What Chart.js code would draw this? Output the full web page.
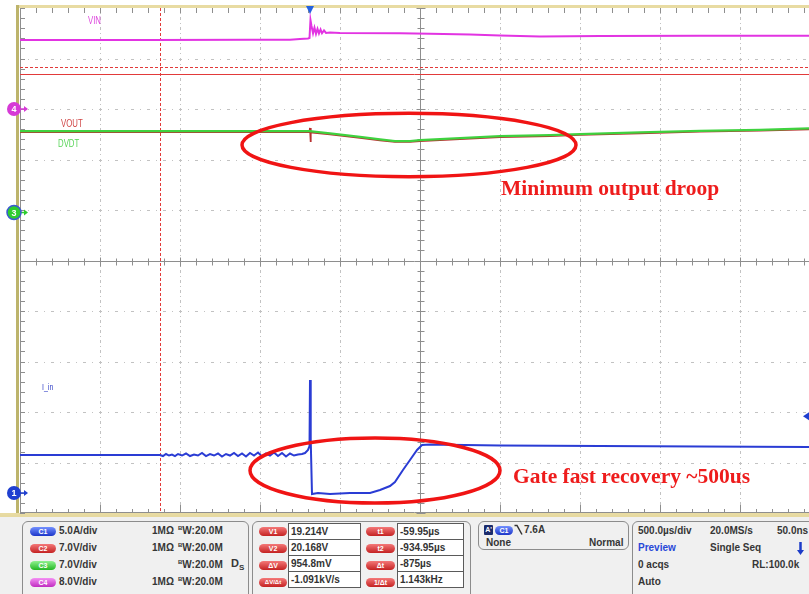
<!DOCTYPE html>
<html>
<head>
<meta charset="utf-8">
<script src="https://cdn.jsdelivr.net/npm/chart.js@4.4.0/dist/chart.umd.min.js"></script>
<style>
html, body { margin: 0; padding: 0; background: #fff; }
#scope { position: relative; width: 809px; height: 594px; overflow: hidden; background: #fff; }
#plot { position: absolute; left: 0; top: 0; }
#panel { position: absolute; left: 0; top: 515px; width: 809px; height: 79px; background: #f0f0f0; border-top: 2px solid #e6d9a0; box-sizing: border-box; }
.bx { position: absolute; border: 1px solid #8c8c8c; border-radius: 6px; box-sizing: border-box; }
.tx { position: absolute; font: bold 10px "Liberation Sans", Arial, sans-serif; color: #363636; line-height: 12px; white-space: nowrap; }
.tx sup { font-size: 6px; vertical-align: 4px; line-height: 0; }
.tx sub { font-size: 8px; vertical-align: -3px; line-height: 0; }
.pl { position: absolute; height: 9px; border-radius: 5px; font: bold 7px "Liberation Sans", Arial, sans-serif; color: #fff; text-align: center; line-height: 9px; white-space: nowrap; }
.blue { background: linear-gradient(#7390ff, #1c36c8); }
.red { background: linear-gradient(#f47878, #c42222); }
.green { background: linear-gradient(#90f290, #22b622); }
.mag { background: linear-gradient(#f490f4, #c02cc0); }
table.rd { position: absolute; border-collapse: collapse; }
table.rd td { border: 1px solid #5a5a5a; background: #fff; height: 15px; padding: 0 0 0 2px; font: bold 10px "Liberation Sans", Arial, sans-serif; color: #333; white-space: nowrap; }
</style>
</head>
<body>
<div id="scope">
  <canvas id="plot" width="809" height="515"></canvas>
  <div id="panel"></div>

  <!-- channel settings -->
  <div class="bx" style="left:22px;top:521px;width:227px;height:90px"></div>
  <div class="pl blue" style="left:30px;top:526.5px;width:26px">C1</div>
  <div class="pl red" style="left:30px;top:543.5px;width:26px">C2</div>
  <div class="pl green" style="left:30px;top:560.5px;width:26px">C3</div>
  <div class="pl mag" style="left:30px;top:577.5px;width:26px">C4</div>
  <div class="tx" style="left:59px;top:525px">5.0A/div</div>
  <div class="tx" style="left:59px;top:542px">7.0V/div</div>
  <div class="tx" style="left:59px;top:559px">7.0V/div</div>
  <div class="tx" style="left:59px;top:576px">8.0V/div</div>
  <div class="tx" style="left:152px;top:525px">1MΩ</div>
  <div class="tx" style="left:152px;top:542px">1MΩ</div>
  <div class="tx" style="left:152px;top:576px">1MΩ</div>
  <div class="tx" style="left:178px;top:525px"><sup>B</sup>W:20.0M</div>
  <div class="tx" style="left:178px;top:542px"><sup>B</sup>W:20.0M</div>
  <div class="tx" style="left:178px;top:559px"><sup>B</sup>W:20.0M</div>
  <div class="tx" style="left:178px;top:576px"><sup>B</sup>W:20.0M</div>
  <div class="tx" style="left:231px;top:557px;font-size:11px">D<sub>S</sub></div>

  <!-- cursor readouts -->
  <div class="bx" style="left:252px;top:521px;width:219px;height:90px"></div>
  <div class="pl red" style="left:259px;top:526.5px;width:28px">V1</div>
  <div class="pl red" style="left:259px;top:543.5px;width:28px">V2</div>
  <div class="pl red" style="left:259px;top:560.5px;width:28px">ΔV</div>
  <div class="pl red" style="left:259px;top:577.5px;width:28px;font-size:6px">ΔV/Δt</div>
  <table class="rd" style="left:288px;top:523px;width:73px">
    <tr><td>19.214V</td></tr><tr><td>20.168V</td></tr><tr><td>954.8mV</td></tr><tr><td>-1.091kV/s</td></tr>
  </table>
  <div class="pl red" style="left:366px;top:526.5px;width:29px">t1</div>
  <div class="pl red" style="left:366px;top:543.5px;width:29px">t2</div>
  <div class="pl red" style="left:366px;top:560.5px;width:29px">Δt</div>
  <div class="pl red" style="left:366px;top:577.5px;width:29px">1/Δt</div>
  <table class="rd" style="left:397px;top:523px;width:67px">
    <tr><td>-59.95µs</td></tr><tr><td>-934.95µs</td></tr><tr><td>-875µs</td></tr><tr><td>1.143kHz</td></tr>
  </table>

  <!-- trigger -->
  <div class="bx" style="left:478px;top:521px;width:151px;height:29px"></div>
  <div class="pl" style="left:484px;top:525px;width:9px;height:10px;border-radius:1px;background:#1c2c6c;line-height:10px">A'</div>
  <div class="pl blue" style="left:495px;top:525.5px;width:18px">C1</div>
  <svg style="position:absolute;left:514px;top:524px" width="9" height="12"><polyline points="0.5,1.5 3,1.5 8,10.5" fill="none" stroke="#333" stroke-width="1.5"/></svg>
  <div class="tx" style="left:524px;top:524px">7.6A</div>
  <div class="tx" style="left:486px;top:537px">None</div>
  <div class="tx" style="left:589px;top:537px">Normal</div>

  <!-- timebase -->
  <div class="bx" style="left:632px;top:521px;width:220px;height:90px"></div>
  <div class="tx" style="left:638px;top:525px">500.0µs/div</div>
  <div class="tx" style="left:710px;top:525px">20.0MS/s</div>
  <div class="tx" style="left:777px;top:525px">50.0ns</div>
  <div class="tx" style="left:638px;top:542px;color:#2848d8">Preview</div>
  <div class="tx" style="left:710px;top:542px">Single Seq</div>
  <svg style="position:absolute;left:796px;top:541px" width="9" height="15"><line x1="4.5" y1="1" x2="4.5" y2="12" stroke="#1c3cc8" stroke-width="2.5"/><polygon points="1,9 8,9 4.5,14" fill="#1c3cc8"/></svg>
  <div class="tx" style="left:638px;top:559px">0 acqs</div>
  <div class="tx" style="left:752px;top:559px">RL:100.0k</div>
  <div class="tx" style="left:638px;top:576px">Auto</div>
</div>

<script>
// time in µs relative to the trigger, 500 µs per division
const usPerDiv = 500;
const timeWindow = [-1812.5, 3118.75];

// C1 input current (A)
const iinTime = [-1812.5, -1312.5, -937.5, -918.75, -900, -881.25, -862.5, -843.75, -825, -800, -775, -750, -725, -700, -675, -650, -625, -600, -575, -550, -525, -500, -475, -450, -425, -400, -375, -350, -325, -300, -275, -250, -225, -200, -175, -150, -125, -100, -75, -50, -31.25, -12.5, -3, 0, 3, 6, 12.5, 50, 125, 250, 375, 437.5, 500, 531, 581, 625, 669, 700, 750, 1187.5, 1812.5, 2437.5, 3118.75];
const iinAmps = [3.76, 3.76, 3.76, 3.66, 3.86, 3.71, 3.81, 3.66, 3.86, 3.71, 3.91, 3.66, 3.81, 3.71, 3.96, 3.66, 3.86, 3.71, 3.91, 3.61, 3.86, 3.71, 3.96, 3.66, 3.91, 3.61, 3.96, 3.71, 4.01, 3.61, 3.91, 3.71, 4.01, 3.66, 3.96, 3.61, 3.91, 3.71, 3.81, 3.86, 3.96, 4.26, 4.65, 11.19, 6.93, 5.25, -0.10, 0.00, -0.10, 0.00, 0.00, 0.30, 0.69, 1.09, 2.28, 3.27, 4.26, 4.75, 4.80, 4.70, 4.65, 4.60, 4.55];

// C2 output voltage (V)
const voutTime = [-1812.5, -62.5, -3, 0, 3, 6, 125, 312.5, 437.5, 531, 625, 687.5, 875, 1187.5, 1500, 1687.5, 2062.5, 2437.5, 2812.5, 3118.75];
const voutVolts = [11.16, 11.16, 11.16, 11.72, 9.78, 11.10, 10.84, 10.36, 10.01, 9.78, 9.78, 9.91, 10.12, 10.47, 10.61, 10.75, 10.98, 11.20, 11.34, 11.54];

// C3 dv/dt pin (V)
const dvdtTime = [-1812.5, -3, 125, 312.5, 437.5, 531, 625, 687.5, 875, 1187.5, 1500, 1687.5, 2062.5, 2437.5, 2812.5, 3118.75];
const dvdtVolts = [11.28, 11.28, 10.96, 10.48, 10.13, 9.90, 9.90, 10.03, 10.24, 10.59, 10.73, 10.87, 11.10, 11.32, 11.46, 11.66];

// C4 input voltage (V)
const vinTime = [-1812.5, -1000, -375, -125, -62.5, -12.5, -3, 3, 9, 19, 28, 37.5, 47, 56, 66, 75, 87.5, 100, 125, 187.5, 562.5, 750, 1000, 1187.5, 1437.5, 1812.5, 2437.5, 3118.75];
const vinVolts = [10.93, 10.93, 10.96, 10.98, 11.09, 11.17, 11.25, 14.10, 13.2, 12.0, 12.9, 11.9, 12.7, 11.95, 12.6, 12.0, 12.45, 12.05, 12.10, 12.04, 11.99, 11.93, 11.80, 11.64, 11.50, 11.56, 11.62, 11.62];

// channel scale (units/div) and ground position (divisions from the bottom)
const chanIds = ['y1', 'y2', 'y3', 'y4'];
const chanPerDiv = [5, 7, 7, 8];
const chanGround = [0.396, 5.95, 5.95, 8];

// cursors: V1/V2 on C2, t2 in time; trigger level on C1
const cursorVolts = [19.214, 20.168];
const cursorTime = -934.95;
const trigLevel = 7.6;

const pts = (ts, vs) => ts.map((t, i) => ({x: t, y: vs[i]}));

const yScales = {};
chanIds.forEach((id, i) => {
    yScales[id] = {
        type: 'linear',
        display: false,
        min: -chanGround[i] * chanPerDiv[i],
        max: (10 - chanGround[i]) * chanPerDiv[i]
    };
});

const traceLabels = [
    {text: 'VIN', t: -1387.5, axis: 'y4', v: 13.47, color: '#de4ade', size: 10},
    {text: 'VOUT', t: -1556, axis: 'y2', v: 11.85, color: '#d04646', size: 10},
    {text: 'DVDT', t: -1575, axis: 'y3', v: 9.08, color: '#58d458', size: 10},
    {text: 'I_in', t: -1675, axis: 'y1', v: 10.15, color: '#3a48c8', size: 9}
];
const rings = [
    {t: 618.75, dt: 1043.75, axis: 'y2', v: 9.36, dv: 4.39},
    {t: 406.25, dt: 781.25, axis: 'y1', v: 2.23, dv: 3.22}
];
const notes = [
    {text: 'Minimum output droop', t: 1193.75, axis: 'y2', v: 2.43},
    {text: 'Gate fast recovery ~500us', t: 1268.75, axis: 'y1', v: 1.0}
];
const chanMarks = [
    {axis: 'y4', n: '4', color: '#d63ad6'},
    {axis: 'y3', n: '3', color: '#2ecc2e', ring: '#3a5ad0'},
    {axis: 'y1', n: '1', color: '#1f3fd0'}
];

const scopeDecor = {
    id: 'scopeDecor',
    beforeDraw(chart) {
        const {ctx, width, height, chartArea: a} = chart;
        ctx.save();
        ctx.fillStyle = '#fff';
        ctx.fillRect(0, 0, width, height);
        ctx.fillStyle = '#e8dba2';
        ctx.fillRect(16, a.top - 3, width, 3);
        ctx.fillRect(0, a.bottom, width, height - a.bottom);
        ctx.fillStyle = '#bdb46c';
        ctx.fillRect(16, a.top - 3, 3, a.bottom - a.top + 3);
        ctx.restore();
    },
    beforeDatasetsDraw(chart) {
        const {ctx, chartArea: a, scales} = chart;
        const x = scales.x;
        const divW = x.getPixelForValue(timeWindow[0] + usPerDiv) - x.getPixelForValue(timeWindow[0]);
        const divH = (a.bottom - a.top) / 10;
        ctx.save();
        // dotted graticule
        ctx.fillStyle = '#c2c2c2';
        for (let k = 1; k < 10; k++) {
            if (k === 5) continue;
            const gx = Math.round(a.left + k * divW);
            for (let j = 1; j < 100; j++) {
                const gy = Math.round(a.top + j * divH / 10);
                if (j % 2 === 0) ctx.fillRect(gx, gy - 1, 1, 3);
                else ctx.fillRect(gx, gy, 1, 1);
            }
            const hy = Math.round(a.top + k * divH);
            for (let j = 1; j < 100; j++) {
                const hx = Math.round(a.left + j * divW / 10);
                if (hx > a.right) break;
                if (j % 2 === 0) ctx.fillRect(hx - 1, hy, 3, 1);
                else ctx.fillRect(hx, hy, 1, 1);
            }
        }
        // centre cross and edge ticks
        ctx.strokeStyle = '#8e8e8e';
        ctx.lineWidth = 1;
        const cx = Math.round(a.left + 5 * divW) + 0.5;
        const cy = Math.round(a.top + 5 * divH) + 0.5;
        ctx.beginPath();
        ctx.moveTo(cx, a.top); ctx.lineTo(cx, a.bottom);
        ctx.moveTo(a.left, cy); ctx.lineTo(a.right, cy);
        ctx.moveTo(a.left + 0.5, a.top); ctx.lineTo(a.left + 0.5, a.bottom);
        ctx.moveTo(a.left, a.bottom - 0.5); ctx.lineTo(a.right, a.bottom - 0.5);
        for (let j = 0; j <= 50; j++) {
            const ty = Math.round(a.top + j * divH / 5) + 0.5;
            const len = j % 5 === 0 ? 4 : 3;
            ctx.moveTo(cx - len, ty); ctx.lineTo(cx + len + 1, ty);
            ctx.moveTo(a.left, ty); ctx.lineTo(a.left + 5, ty);
        }
        for (let j = 0; j <= 50; j++) {
            const tx = Math.round(a.left + j * divW / 5) + 0.5;
            if (tx > a.right) break;
            const len = j % 5 === 0 ? 4 : 3;
            ctx.moveTo(tx, cy - len); ctx.lineTo(tx, cy + len + 1);
            ctx.moveTo(tx, a.top); ctx.lineTo(tx, a.top + 5);
            ctx.moveTo(tx, a.bottom); ctx.lineTo(tx, a.bottom - (j % 5 === 0 ? 8 : 4));
        }
        ctx.stroke();
        // cursors
        ctx.strokeStyle = '#e23a3a';
        cursorVolts.forEach((v, i) => {
            ctx.setLineDash(i === 1 ? [3, 2] : []);
            const py = Math.round(scales.y2.getPixelForValue(v)) + 0.5;
            ctx.beginPath(); ctx.moveTo(a.left, py); ctx.lineTo(a.right, py); ctx.stroke();
        });
        ctx.setLineDash([3, 2]);
        const px = Math.round(x.getPixelForValue(cursorTime)) + 0.5;
        ctx.beginPath(); ctx.moveTo(px, a.top); ctx.lineTo(px, a.bottom); ctx.stroke();
        ctx.restore();
    },
    afterDatasetsDraw(chart) {
        const {ctx, chartArea: a, scales} = chart;
        const x = scales.x;
        ctx.save();
        // trace names, squeezed like the scope font
        traceLabels.forEach(l => {
            ctx.save();
            ctx.translate(x.getPixelForValue(l.t), scales[l.axis].getPixelForValue(l.v));
            ctx.scale(0.78, 1);
            ctx.font = l.size + 'px "Liberation Sans", Arial, sans-serif';
            ctx.fillStyle = l.color;
            ctx.fillText(l.text, 0, 0);
            ctx.restore();
        });
        // channel ground markers
        chanMarks.forEach(m => {
            const gy = scales[m.axis].getPixelForValue(0);
            ctx.fillStyle = m.color;
            ctx.strokeStyle = m.color;
            ctx.lineWidth = 1.5;
            ctx.beginPath(); ctx.moveTo(20, gy); ctx.lineTo(25, gy); ctx.stroke();
            ctx.beginPath(); ctx.moveTo(24, gy - 3); ctx.lineTo(28, gy); ctx.lineTo(24, gy + 3); ctx.closePath(); ctx.fill();
            ctx.beginPath(); ctx.arc(14, gy, 7, 0, Math.PI * 2); ctx.fill();
            if (m.ring) { ctx.strokeStyle = m.ring; ctx.stroke(); }
            ctx.fillStyle = '#fff';
            ctx.font = 'bold 9px "Liberation Sans", Arial, sans-serif';
            ctx.textAlign = 'center';
            ctx.textBaseline = 'middle';
            ctx.fillText(m.n, 14, gy + 0.5);
            ctx.textAlign = 'left';
            ctx.textBaseline = 'alphabetic';
        });
        // trigger position and level
        const tx = x.getPixelForValue(0);
        ctx.fillStyle = '#2462e0';
        ctx.beginPath(); ctx.moveTo(tx - 4, a.top - 2); ctx.lineTo(tx + 4, a.top - 2); ctx.lineTo(tx, a.top + 6); ctx.closePath(); ctx.fill();
        const ly = scales.y1.getPixelForValue(trigLevel);
        ctx.fillStyle = '#1f3fd0';
        ctx.beginPath(); ctx.moveTo(a.right - 6, ly); ctx.lineTo(a.right, ly - 4); ctx.lineTo(a.right, ly + 4); ctx.closePath(); ctx.fill();
        // red ellipses and notes
        ctx.strokeStyle = '#f01414';
        ctx.lineWidth = 3.5;
        rings.forEach(r => {
            const ys = scales[r.axis];
            const rcx = x.getPixelForValue(r.t), rcy = ys.getPixelForValue(r.v);
            const rx = Math.abs(x.getPixelForValue(r.t + r.dt) - rcx);
            const ry = Math.abs(ys.getPixelForValue(r.v + r.dv) - rcy);
            ctx.beginPath(); ctx.ellipse(rcx, rcy, rx, ry, 0, 0, Math.PI * 2); ctx.stroke();
        });
        ctx.fillStyle = '#ee1c1c';
        ctx.font = 'bold 21.5px "Liberation Serif", "Times New Roman", serif';
        notes.forEach(n => {
            ctx.fillText(n.text, x.getPixelForValue(n.t), scales[n.axis].getPixelForValue(n.v));
        });
        ctx.restore();
    }
};

new Chart(document.getElementById('plot'), {
    type: 'line',
    data: {
        datasets: [
            {label: 'DVDT', data: pts(dvdtTime, dvdtVolts), yAxisID: 'y3', borderColor: '#3fd23f', borderWidth: 2.2, order: 0},
            {label: 'VOUT', data: pts(voutTime, voutVolts), yAxisID: 'y2', borderColor: '#b83030', borderWidth: 1.8, order: 1},
            {label: 'VIN', data: pts(vinTime, vinVolts), yAxisID: 'y4', borderColor: '#e234e2', borderWidth: 2, order: 2},
            {label: 'I_in', data: pts(iinTime, iinAmps), yAxisID: 'y1', borderColor: '#2a3cd4', borderWidth: 2, order: 3}
        ]
    },
    options: {
        responsive: false,
        animation: false,
        devicePixelRatio: 1,
        events: [],
        layout: {padding: {left: 20, top: 8, right: 0, bottom: 2}},
        elements: {point: {radius: 0}, line: {tension: 0, fill: false}},
        plugins: {legend: {display: false}, tooltip: {enabled: false}},
        scales: Object.assign({
            x: {type: 'linear', display: false, min: timeWindow[0], max: timeWindow[1]}
        }, yScales)
    },
    plugins: [scopeDecor]
});
</script>
</body>
</html>
